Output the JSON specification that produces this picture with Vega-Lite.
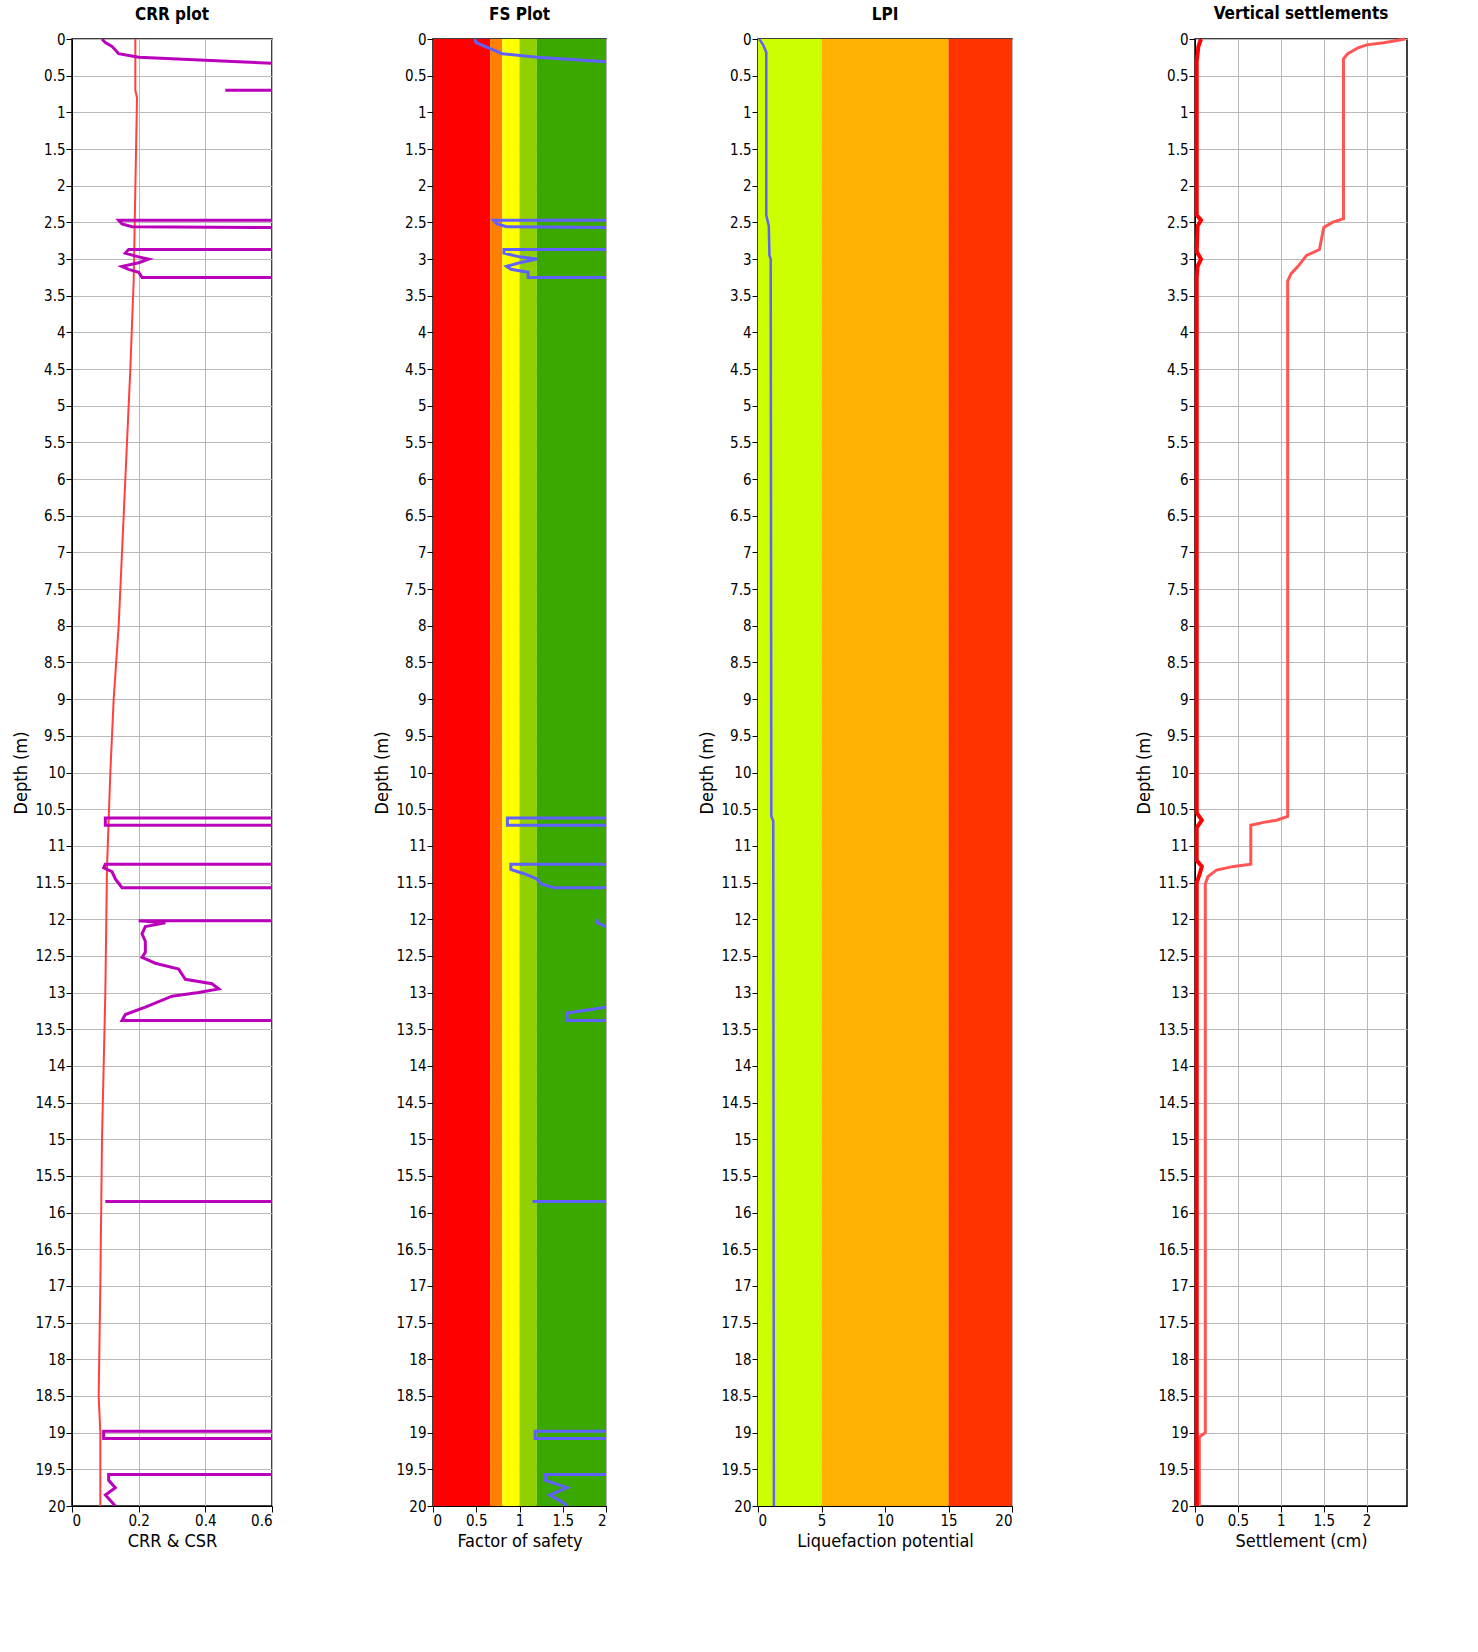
{
  "$schema": "https://vega.github.io/schema/vega-lite/v6.json",
  "padding": {"left": 12, "top": 4, "right": 10, "bottom": 5},
  "spacing": 121,
  "config": {
    "font": "DejaVu Sans Condensed",
    "view": {"stroke": "black", "strokeWidth": 1.5},
    "axis": {"labelFontSize": 15, "titleFontSize": 18, "titleFontWeight": "normal", "labelColor": "black", "titleColor": "black", "gridColor": "#b8b8b8", "gridWidth": 1, "domainColor": "black", "tickColor": "black", "zindex": 1, "labelLetterSpacing": -1, "titleLetterSpacing": -1, "labelExpr": "datum.value", "tickSize": 6, "labelPadding": 1, "titlePadding": 4, "labelOverlap": false},
    "title": {"fontSize": 17, "fontWeight": "bold", "offset": 8, "letterSpacing": -1}
  },
  "datasets": {
    "crr": [
      {"d": 0, "v": 0.09, "s": "A"}, {"d": 0.05, "v": 0.1, "s": "A"}, {"d": 0.1, "v": 0.12, "s": "A"}, {"d": 0.2, "v": 0.14, "s": "A"}, {"d": 0.25, "v": 0.2, "s": "A"}, {"d": 0.28, "v": 0.35, "s": "A"}, {"d": 0.31, "v": 0.5, "s": "A"}, {"d": 0.33, "v": 0.6, "s": "A"},
      {"d": 0.7, "v": 0.46, "s": "B"}, {"d": 0.7, "v": 0.6, "s": "B"},
      {"d": 2.47, "v": 0.6, "s": "C"}, {"d": 2.47, "v": 0.14, "s": "C"}, {"d": 2.52, "v": 0.15, "s": "C"}, {"d": 2.56, "v": 0.18, "s": "C"}, {"d": 2.57, "v": 0.6, "s": "C"},
      {"d": 2.87, "v": 0.6, "s": "D"}, {"d": 2.87, "v": 0.17, "s": "D"}, {"d": 2.92, "v": 0.16, "s": "D"}, {"d": 2.97, "v": 0.2, "s": "D"}, {"d": 3.0, "v": 0.23, "s": "D"}, {"d": 3.05, "v": 0.2, "s": "D"}, {"d": 3.1, "v": 0.15, "s": "D"}, {"d": 3.14, "v": 0.17, "s": "D"}, {"d": 3.18, "v": 0.2, "s": "D"}, {"d": 3.25, "v": 0.21, "s": "D"}, {"d": 3.25, "v": 0.6, "s": "D"},
      {"d": 10.62, "v": 0.6, "s": "E"}, {"d": 10.62, "v": 0.1, "s": "E"}, {"d": 10.72, "v": 0.1, "s": "E"}, {"d": 10.72, "v": 0.6, "s": "E"},
      {"d": 11.25, "v": 0.6, "s": "F"}, {"d": 11.25, "v": 0.1, "s": "F"}, {"d": 11.3, "v": 0.095, "s": "F"}, {"d": 11.35, "v": 0.12, "s": "F"}, {"d": 11.45, "v": 0.13, "s": "F"}, {"d": 11.57, "v": 0.15, "s": "F"}, {"d": 11.57, "v": 0.6, "s": "F"},
      {"d": 12.02, "v": 0.6, "s": "G"}, {"d": 12.02, "v": 0.2, "s": "G"}, {"d": 12.05, "v": 0.28, "s": "G"}, {"d": 12.1, "v": 0.22, "s": "G"}, {"d": 12.2, "v": 0.21, "s": "G"}, {"d": 12.3, "v": 0.22, "s": "G"}, {"d": 12.45, "v": 0.22, "s": "G"}, {"d": 12.52, "v": 0.21, "s": "G"}, {"d": 12.6, "v": 0.25, "s": "G"}, {"d": 12.68, "v": 0.32, "s": "G"}, {"d": 12.75, "v": 0.33, "s": "G"}, {"d": 12.82, "v": 0.34, "s": "G"}, {"d": 12.88, "v": 0.42, "s": "G"}, {"d": 12.95, "v": 0.44, "s": "G"}, {"d": 13.0, "v": 0.38, "s": "G"}, {"d": 13.05, "v": 0.3, "s": "G"}, {"d": 13.2, "v": 0.22, "s": "G"}, {"d": 13.3, "v": 0.16, "s": "G"}, {"d": 13.38, "v": 0.15, "s": "G"}, {"d": 13.38, "v": 0.6, "s": "G"},
      {"d": 15.85, "v": 0.1, "s": "H"}, {"d": 15.85, "v": 0.6, "s": "H"},
      {"d": 18.98, "v": 0.6, "s": "I"}, {"d": 18.98, "v": 0.095, "s": "I"}, {"d": 19.08, "v": 0.095, "s": "I"}, {"d": 19.08, "v": 0.6, "s": "I"},
      {"d": 19.57, "v": 0.6, "s": "J"}, {"d": 19.57, "v": 0.11, "s": "J"}, {"d": 19.65, "v": 0.11, "s": "J"}, {"d": 19.75, "v": 0.13, "s": "J"}, {"d": 19.85, "v": 0.1, "s": "J"}, {"d": 19.95, "v": 0.12, "s": "J"}, {"d": 20, "v": 0.13, "s": "J"}
    ],
    "csr": [
      {"d": 0, "v": 0.19}, {"d": 0.7, "v": 0.19}, {"d": 0.8, "v": 0.195}, {"d": 3.3, "v": 0.185}, {"d": 4.5, "v": 0.175}, {"d": 6, "v": 0.16}, {"d": 7, "v": 0.15}, {"d": 8, "v": 0.14}, {"d": 9, "v": 0.125}, {"d": 10, "v": 0.115}, {"d": 11.3, "v": 0.105}, {"d": 13, "v": 0.1}, {"d": 15, "v": 0.09}, {"d": 17, "v": 0.085}, {"d": 18.5, "v": 0.08}, {"d": 19, "v": 0.085}, {"d": 20, "v": 0.085}
    ],
    "fs": [
      {"d": 0, "v": 0.48, "s": "A"}, {"d": 0.05, "v": 0.5, "s": "A"}, {"d": 0.1, "v": 0.6, "s": "A"}, {"d": 0.2, "v": 0.8, "s": "A"}, {"d": 0.25, "v": 1.2, "s": "A"}, {"d": 0.28, "v": 1.6, "s": "A"}, {"d": 0.31, "v": 2, "s": "A"},
      {"d": 2.47, "v": 2, "s": "C"}, {"d": 2.47, "v": 0.7, "s": "C"}, {"d": 2.52, "v": 0.74, "s": "C"}, {"d": 2.56, "v": 0.85, "s": "C"}, {"d": 2.57, "v": 2, "s": "C"},
      {"d": 2.87, "v": 2, "s": "D"}, {"d": 2.87, "v": 0.82, "s": "D"}, {"d": 2.92, "v": 0.82, "s": "D"}, {"d": 2.97, "v": 1.0, "s": "D"}, {"d": 3.0, "v": 1.2, "s": "D"}, {"d": 3.05, "v": 1.0, "s": "D"}, {"d": 3.1, "v": 0.85, "s": "D"}, {"d": 3.14, "v": 0.9, "s": "D"}, {"d": 3.18, "v": 1.1, "s": "D"}, {"d": 3.25, "v": 1.1, "s": "D"}, {"d": 3.25, "v": 2, "s": "D"},
      {"d": 10.62, "v": 2, "s": "E"}, {"d": 10.62, "v": 0.86, "s": "E"}, {"d": 10.72, "v": 0.86, "s": "E"}, {"d": 10.72, "v": 2, "s": "E"},
      {"d": 11.25, "v": 2, "s": "F"}, {"d": 11.25, "v": 0.9, "s": "F"}, {"d": 11.32, "v": 0.9, "s": "F"}, {"d": 11.38, "v": 1.05, "s": "F"}, {"d": 11.45, "v": 1.2, "s": "F"}, {"d": 11.52, "v": 1.25, "s": "F"}, {"d": 11.57, "v": 1.4, "s": "F"}, {"d": 11.57, "v": 2, "s": "F"},
      {"d": 12.0, "v": 1.9, "s": "G"}, {"d": 12.05, "v": 1.9, "s": "G"}, {"d": 12.1, "v": 2, "s": "G"},
      {"d": 13.2, "v": 2, "s": "K"}, {"d": 13.28, "v": 1.55, "s": "K"}, {"d": 13.38, "v": 1.55, "s": "K"}, {"d": 13.38, "v": 2, "s": "K"},
      {"d": 15.85, "v": 1.15, "s": "H"}, {"d": 15.85, "v": 2, "s": "H"},
      {"d": 18.98, "v": 2, "s": "I"}, {"d": 18.98, "v": 1.18, "s": "I"}, {"d": 19.08, "v": 1.18, "s": "I"}, {"d": 19.08, "v": 2, "s": "I"},
      {"d": 19.57, "v": 2, "s": "J"}, {"d": 19.57, "v": 1.3, "s": "J"}, {"d": 19.65, "v": 1.3, "s": "J"}, {"d": 19.75, "v": 1.55, "s": "J"}, {"d": 19.85, "v": 1.35, "s": "J"}, {"d": 19.95, "v": 1.5, "s": "J"}, {"d": 20, "v": 1.55, "s": "J"}
    ],
    "fsbands": [
      {"a": 0, "b": 0.66, "t": 0, "u": 20, "c": "#ff0000"}, {"a": 0.66, "b": 0.8, "t": 0, "u": 20, "c": "#ff8000"}, {"a": 0.8, "b": 1.0, "t": 0, "u": 20, "c": "#ffff00"}, {"a": 1.0, "b": 1.2, "t": 0, "u": 20, "c": "#90d000"}, {"a": 1.2, "b": 2, "t": 0, "u": 20, "c": "#3aa800"}
    ],
    "lpibands": [
      {"a": 0, "b": 5, "t": 0, "u": 20, "c": "#ccff00"}, {"a": 5, "b": 15, "t": 0, "u": 20, "c": "#ffb000"}, {"a": 15, "b": 20, "t": 0, "u": 20, "c": "#ff3300"}
    ],
    "lpi": [
      {"d": 0, "v": 0.1}, {"d": 0.08, "v": 0.4}, {"d": 0.18, "v": 0.65}, {"d": 2.4, "v": 0.65}, {"d": 2.55, "v": 0.85}, {"d": 2.95, "v": 0.9}, {"d": 3.0, "v": 1.0}, {"d": 10.6, "v": 1.05}, {"d": 10.66, "v": 1.2}, {"d": 20, "v": 1.25}
    ],
    "set": [
      {"d": 0, "v": 2.45}, {"d": 0.05, "v": 2.2}, {"d": 0.08, "v": 2.0}, {"d": 0.12, "v": 1.9}, {"d": 0.2, "v": 1.78}, {"d": 0.27, "v": 1.73}, {"d": 2.45, "v": 1.73}, {"d": 2.5, "v": 1.6}, {"d": 2.57, "v": 1.5}, {"d": 2.87, "v": 1.45}, {"d": 2.95, "v": 1.3}, {"d": 3.1, "v": 1.2}, {"d": 3.2, "v": 1.12}, {"d": 3.3, "v": 1.08}, {"d": 10.6, "v": 1.08}, {"d": 10.65, "v": 0.95}, {"d": 10.68, "v": 0.8}, {"d": 10.72, "v": 0.65}, {"d": 11.25, "v": 0.65}, {"d": 11.28, "v": 0.45}, {"d": 11.33, "v": 0.25}, {"d": 11.42, "v": 0.15}, {"d": 11.52, "v": 0.12}, {"d": 19.0, "v": 0.12}, {"d": 19.06, "v": 0.05}, {"d": 20, "v": 0.05}
    ],
    "set2": [
      {"d": 0, "v": 0.07}, {"d": 0.1, "v": 0.04}, {"d": 0.3, "v": 0.02}, {"d": 2.4, "v": 0.02}, {"d": 2.47, "v": 0.07}, {"d": 2.55, "v": 0.03}, {"d": 2.9, "v": 0.02}, {"d": 3.0, "v": 0.07}, {"d": 3.1, "v": 0.03}, {"d": 3.25, "v": 0.02}, {"d": 10.55, "v": 0.02}, {"d": 10.65, "v": 0.08}, {"d": 10.75, "v": 0.02}, {"d": 11.2, "v": 0.02}, {"d": 11.28, "v": 0.08}, {"d": 11.4, "v": 0.05}, {"d": 11.5, "v": 0.02}, {"d": 20, "v": 0.02}
    ]
  },
  "hconcat": [
    {
      "spacing": 90,
      "hconcat": [
        {
          "spacing": 99,
          "hconcat": [
            {
              "title": "CRR plot",
              "width": 200, "height": 1467,
              "encoding": {
                "y": {"field": "d", "type": "quantitative", "scale": {"domain": [0, 20], "reverse": true, "nice": false}, "title": "Depth (m)", "axis": {"values": [0,0.5,1,1.5,2,2.5,3,3.5,4,4.5,5,5.5,6,6.5,7,7.5,8,8.5,9,9.5,10,10.5,11,11.5,12,12.5,13,13.5,14,14.5,15,15.5,16,16.5,17,17.5,18,18.5,19,19.5,20]}}
              },
              "layer": [
                {"data": {"name": "csr"}, "mark": {"type": "line", "color": "#ff4040", "strokeWidth": 2},
                 "encoding": {"x": {"field": "v", "type": "quantitative", "scale": {"domain": [0, 0.6], "nice": false}, "title": "CRR & CSR", "axis": {"values": [0, 0.2, 0.4, 0.6]}}, "order": {"field": "d"}}},
                {"data": {"name": "crr"}, "mark": {"type": "line", "color": "#bb00bb", "strokeWidth": 3, "clip": true},
                 "encoding": {"x": {"field": "v", "type": "quantitative"}, "detail": {"field": "s"}, "order": {"field": "d"}}}
              ]
            },
            {
              "title": "FS Plot",
              "width": 173, "height": 1467,
              "encoding": {
                "y": {"field": "d", "type": "quantitative", "scale": {"domain": [0, 20], "reverse": true, "nice": false}, "title": "Depth (m)", "axis": {"values": [0,0.5,1,1.5,2,2.5,3,3.5,4,4.5,5,5.5,6,6.5,7,7.5,8,8.5,9,9.5,10,10.5,11,11.5,12,12.5,13,13.5,14,14.5,15,15.5,16,16.5,17,17.5,18,18.5,19,19.5,20]}}
              },
              "layer": [
                {"data": {"name": "fsbands"}, "mark": {"type": "rect"},
                 "encoding": {
                   "y": {"field": "t", "type": "quantitative"}, "y2": {"field": "u"},
                   "x": {"field": "a", "type": "quantitative", "scale": {"domain": [0, 2], "nice": false}, "title": "Factor of safety", "axis": {"values": [0, 0.5, 1, 1.5, 2]}}, "x2": {"field": "b"},
                   "color": {"field": "c", "type": "nominal", "scale": null}}},
                {"data": {"name": "fs"}, "mark": {"type": "line", "color": "#6060ff", "strokeWidth": 3, "clip": true},
                 "encoding": {"x": {"field": "v", "type": "quantitative"}, "detail": {"field": "s"}, "order": {"field": "d"}}}
              ]
            }
          ]
        },
        {
          "title": "LPI",
          "width": 254, "height": 1467,
          "encoding": {
            "y": {"field": "d", "type": "quantitative", "scale": {"domain": [0, 20], "reverse": true, "nice": false}, "title": "Depth (m)", "axis": {"values": [0,0.5,1,1.5,2,2.5,3,3.5,4,4.5,5,5.5,6,6.5,7,7.5,8,8.5,9,9.5,10,10.5,11,11.5,12,12.5,13,13.5,14,14.5,15,15.5,16,16.5,17,17.5,18,18.5,19,19.5,20]}}
          },
          "layer": [
            {"data": {"name": "lpibands"}, "mark": {"type": "rect"},
             "encoding": {
               "y": {"field": "t", "type": "quantitative"}, "y2": {"field": "u"},
               "x": {"field": "a", "type": "quantitative", "scale": {"domain": [0, 20], "nice": false}, "title": "Liquefaction potential", "axis": {"values": [0, 5, 10, 15, 20]}}, "x2": {"field": "b"},
               "color": {"field": "c", "type": "nominal", "scale": null}}},
            {"data": {"name": "lpi"}, "mark": {"type": "line", "color": "#6060ff", "strokeWidth": 2.5},
             "encoding": {"x": {"field": "v", "type": "quantitative"}, "order": {"field": "d"}}}
          ]
        }
      ]
    },
    {
      "title": "Vertical settlements",
      "width": 212, "height": 1467,
      "encoding": {
        "y": {"field": "d", "type": "quantitative", "scale": {"domain": [0, 20], "reverse": true, "nice": false}, "title": "Depth (m)", "axis": {"values": [0,0.5,1,1.5,2,2.5,3,3.5,4,4.5,5,5.5,6,6.5,7,7.5,8,8.5,9,9.5,10,10.5,11,11.5,12,12.5,13,13.5,14,14.5,15,15.5,16,16.5,17,17.5,18,18.5,19,19.5,20]}}
      },
      "layer": [
        {"data": {"name": "set"}, "mark": {"type": "line", "color": "#ff5555", "strokeWidth": 3},
         "encoding": {"x": {"field": "v", "type": "quantitative", "scale": {"domain": [0, 2.47], "nice": false}, "title": "Settlement (cm)", "axis": {"values": [0, 0.5, 1, 1.5, 2]}}, "order": {"field": "d"}}},
        {"data": {"name": "set2"}, "mark": {"type": "line", "color": "#ff0000", "strokeWidth": 4},
         "encoding": {"x": {"field": "v", "type": "quantitative"}, "order": {"field": "d"}}}
      ]
    }
  ]
}
